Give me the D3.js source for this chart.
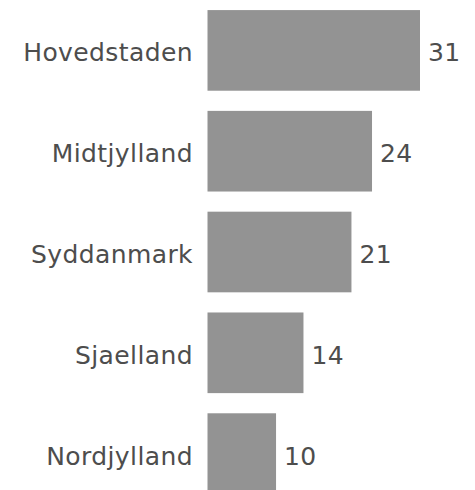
<!DOCTYPE html>
<html>
<head>
<meta charset="utf-8">
<script src="https://cdn.jsdelivr.net/npm/d3@7"></script>
<style>
html, body { margin: 0; padding: 0; background: #fff; }
svg { display: block; }
text { font-family: "DejaVu Sans", Verdana, sans-serif; fill: #4d4d4d; letter-spacing: 0.4px; }
</style>
</head>
<body>
<script>
const regions = ["Hovedstaden", "Midtjylland", "Syddanmark", "Sjaelland", "Nordjylland"];
const values = [31, 24, 21, 14, 10];

const W = 475, H = 490;
const svg = d3.select("body").append("svg").attr("width", W).attr("height", H);

const x = d3.scaleLinear().domain([0, 31]).range([207.5, 420]);
const y = d3.scaleBand().domain(regions).range([0, 504]).paddingInner(0.2).paddingOuter(0.1);

const data = regions.map((r, i) => ({ r, v: values[i] }));

svg.selectAll("rect.bar").data(data).enter().append("rect")
  .attr("class", "bar")
  .attr("x", x(0))
  .attr("y", d => y(d.r))
  .attr("width", d => x(d.v) - x(0))
  .attr("height", y.bandwidth())
  .attr("fill", "#939393");

svg.selectAll("text.cat").data(data).enter().append("text")
  .attr("class", "cat")
  .attr("x", 193)
  .attr("y", d => y(d.r) + y.bandwidth() / 2)
  .attr("dy", "0.44em")
  .attr("text-anchor", "end")
  .style("font-size", "25px")
  .text(d => d.r);

svg.selectAll("text.val").data(data).enter().append("text")
  .attr("class", "val")
  .attr("x", d => x(d.v) + 8)
  .attr("y", d => y(d.r) + y.bandwidth() / 2)
  .attr("dy", "0.44em")
  .attr("text-anchor", "start")
  .style("font-size", "25px")
  .text(d => d.v);
</script>
</body>
</html>
